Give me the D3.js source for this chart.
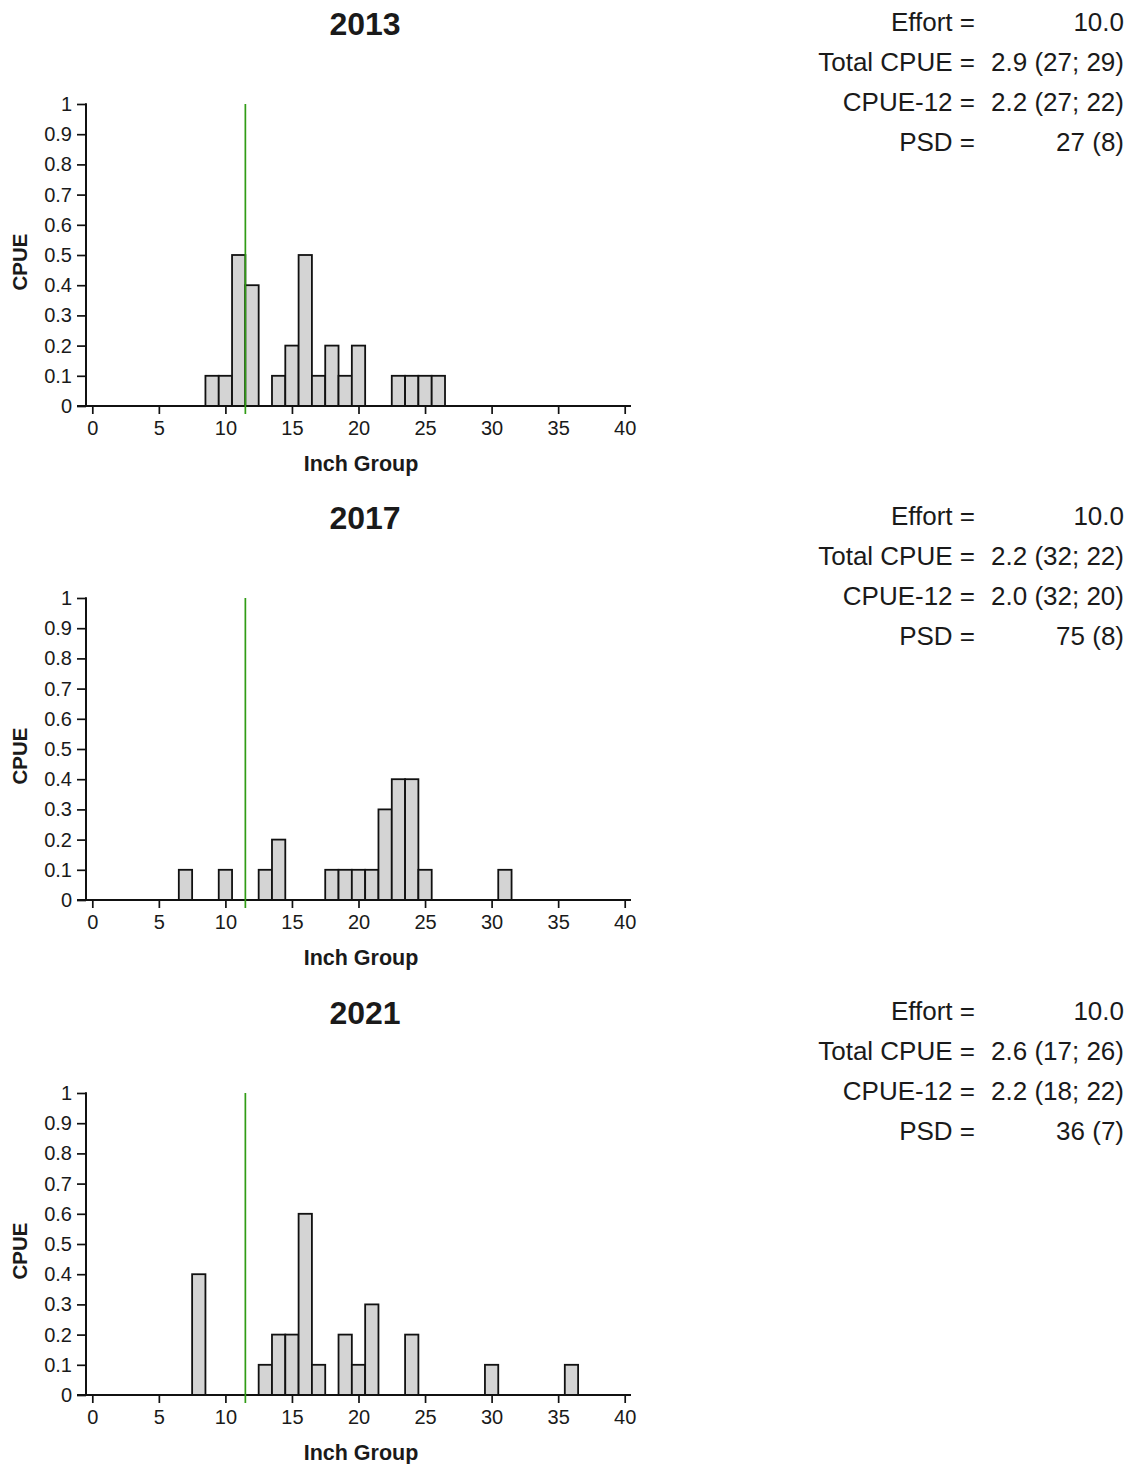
<!DOCTYPE html>
<html>
<head>
<meta charset="utf-8">
<script src="https://cdn.jsdelivr.net/npm/d3@7"></script>
<style>
  html, body { margin: 0; padding: 0; background: #fff; }
  svg { display: block; }
  text { font-family: "Liberation Sans", Arial, sans-serif; fill: #1a1a1a; }
</style>
</head>
<body>
<script>
// Survey years, one length-frequency panel each
const years = ["2013", "2017", "2021"];

// Inch groups and CPUE per inch group, per year
const inch2013 = [9, 10, 11, 12, 14, 15, 16, 17, 18, 19, 20, 23, 24, 25, 26];
const cpue2013 = [0.1, 0.1, 0.5, 0.4, 0.1, 0.2, 0.5, 0.1, 0.2, 0.1, 0.2, 0.1, 0.1, 0.1, 0.1];

const inch2017 = [7, 10, 13, 14, 18, 19, 20, 21, 22, 23, 24, 25, 31];
const cpue2017 = [0.1, 0.1, 0.1, 0.2, 0.1, 0.1, 0.1, 0.1, 0.3, 0.4, 0.4, 0.1, 0.1];

const inch2021 = [8, 13, 14, 15, 16, 17, 19, 20, 21, 24, 30, 36];
const cpue2021 = [0.4, 0.1, 0.2, 0.2, 0.6, 0.1, 0.2, 0.1, 0.3, 0.2, 0.1, 0.1];

// Minimum length line (inches)
const lengthLimit = 11.5;

// Summary statistics, per year
const statLabels = ["Effort =", "Total CPUE =", "CPUE-12 =", "PSD ="];
const effort = ["10.0", "10.0", "10.0"];
const totalCpue = ["2.9 (27; 29)", "2.2 (32; 22)", "2.6 (17; 26)"];
const cpue12 = ["2.2 (27; 22)", "2.0 (32; 20)", "2.2 (18; 22)"];
const psd = ["27 (8)", "75 (8)", "36 (7)"];

// Axis ticks
const xTicks = [0, 5, 10, 15, 20, 25, 30, 35, 40];
const yTicks = [0, 0.1, 0.2, 0.3, 0.4, 0.5, 0.6, 0.7, 0.8, 0.9, 1];

const panels = [
  { inch: inch2013, cpue: cpue2013 },
  { inch: inch2017, cpue: cpue2017 },
  { inch: inch2021, cpue: cpue2021 }
];

const W = 1133, H = 1464;
const panelOffset = [0, 494, 989];

const svg = d3.select("body").append("svg")
  .attr("width", W).attr("height", H);

const x = d3.scaleLinear().domain([0, 40]).range([92.3, 624.7]);
const y = d3.scaleLinear().domain([0, 1]).range([406, 104]);
const yFmt = d => (d === 0 ? "0" : d === 1 ? "1" : d3.format(".1f")(d));

years.forEach((yr, i) => {
  const g = svg.append("g").attr("transform", `translate(0,${panelOffset[i]})`);
  const data = panels[i].inch.map((v, j) => ({ inch: v, cpue: panels[i].cpue[j] }));

  // Year title
  g.append("text")
    .attr("x", 365).attr("y", 35)
    .attr("text-anchor", "middle")
    .style("font-size", "32px").style("font-weight", "bold")
    .text(yr);

  // Bars, one inch wide and centred on the inch group
  g.append("g").selectAll("rect").data(data).join("rect")
    .attr("x", d => x(d.inch - 0.5))
    .attr("width", d => x(d.inch + 0.5) - x(d.inch - 0.5))
    .attr("y", d => y(d.cpue))
    .attr("height", d => y(0) - y(d.cpue))
    .attr("fill", "#d4d4d4")
    .attr("stroke", "#111")
    .attr("stroke-width", 1.8);

  // Y axis
  const yAxis = g.append("g")
    .attr("transform", "translate(86,0)")
    .call(d3.axisLeft(y).tickValues(yTicks).tickFormat(yFmt).tickSize(9).tickPadding(5));
  yAxis.select(".domain").remove();
  yAxis.selectAll(".tick line").attr("stroke", "#111").attr("stroke-width", 1.7);
  yAxis.selectAll(".tick text")
    .style("font-size", "20px").style("font-family", "'Liberation Sans', Arial, sans-serif")
    .attr("fill", "#1a1a1a");
  g.append("line")
    .attr("x1", 86).attr("x2", 86)
    .attr("y1", y(1) - 0.8).attr("y2", y(0))
    .attr("stroke", "#111").attr("stroke-width", 2);

  // X axis
  const xAxis = g.append("g")
    .attr("transform", `translate(0,${y(0)})`)
    .call(d3.axisBottom(x).tickValues(xTicks).tickSize(8).tickPadding(7));
  xAxis.select(".domain").remove();
  xAxis.selectAll(".tick line").attr("stroke", "#111").attr("stroke-width", 1.7);
  xAxis.selectAll(".tick text")
    .style("font-size", "20px").style("font-family", "'Liberation Sans', Arial, sans-serif")
    .attr("fill", "#1a1a1a");
  g.append("line")
    .attr("x1", 77).attr("x2", 631)
    .attr("y1", y(0)).attr("y2", y(0))
    .attr("stroke", "#111").attr("stroke-width", 2);

  // Length limit line
  g.append("line")
    .attr("x1", x(lengthLimit)).attr("x2", x(lengthLimit))
    .attr("y1", y(1)).attr("y2", y(0) + 8)
    .attr("stroke", "#319c16").attr("stroke-width", 1.7);

  // Axis titles
  g.append("text")
    .attr("x", 361).attr("y", 471)
    .attr("text-anchor", "middle")
    .style("font-size", "21.5px").style("font-weight", "bold")
    .text("Inch Group");
  g.append("text")
    .attr("transform", "translate(27,262) rotate(-90)")
    .attr("text-anchor", "middle")
    .style("font-size", "20.5px").style("font-weight", "bold")
    .text("CPUE");

  // Summary statistics
  const values = [effort[i], totalCpue[i], cpue12[i], psd[i]];
  const stats = g.append("g");
  statLabels.forEach((lab, k) => {
    stats.append("text")
      .attr("x", 975).attr("y", 31 + k * 40)
      .attr("text-anchor", "end")
      .style("font-size", "26px")
      .text(lab);
    stats.append("text")
      .attr("x", 1124).attr("y", 31 + k * 40)
      .attr("text-anchor", "end")
      .style("font-size", "26px")
      .text(values[k]);
  });
});
</script>
</body>
</html>
